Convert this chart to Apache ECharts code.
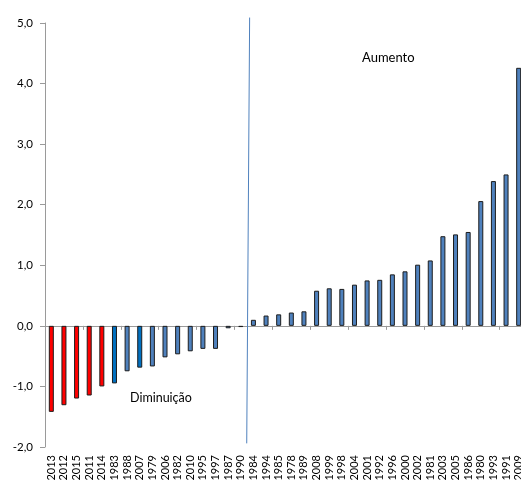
<!DOCTYPE html>
<html>
<head>
<meta charset="utf-8">
<script src="https://cdn.jsdelivr.net/npm/echarts@6/dist/echarts.min.js"></script>
<style>
  html, body { margin: 0; padding: 0; background: #fff; overflow: hidden; }
  /* o gráfico original é cortado à direita: a área é um pouco mais larga que a janela */
  #chart { width: 526px; height: 488px; }
</style>
</head>
<body>
<div id="chart"></div>
<script>
// anos ordenados pela variação
const anos = ['2013', '2012', '2015', '2011', '2014', '1983', '1988', '2007', '1979', '2006',
    '1982', '2010', '1995', '1997', '1987', '1990', '1984', '1994', '1985', '1978',
    '1989', '2008', '1999', '1998', '2004', '2001', '1992', '1996', '2000', '2002',
    '1981', '2003', '2005', '1986', '1980', '1993', '1991', '2009']
const valores = [-1.42, -1.31, -1.20, -1.15, -1.00, -0.95, -0.75, -0.69, -0.67, -0.52,
    -0.47, -0.42, -0.38, -0.38, -0.04, -0.02, 0.10, 0.17, 0.19, 0.22,
    0.24, 0.58, 0.62, 0.61, 0.68, 0.75, 0.76, 0.85, 0.90, 1.01,
    1.08, 1.48, 1.51, 1.55, 2.06, 2.39, 2.50, 4.26]
const anosVermelhos = ['2013', '2012', '2015', '2011', '2014']
const anosDestaque = ['1983', '2007']
const yTicks = [-2, -1, 0, 1, 2, 3, 4, 5]

const fonte = 'Lato, "Open Sans", sans-serif'

/* cores das barras */
const dadosBarras = valores.map((v, i) => {
    let cor = '#4F81BD'
    if (anosVermelhos.includes(anos[i])) cor = '#FF0000'
    else if (anosDestaque.includes(anos[i])) cor = '#0070C0'
    return {
        value: v,
        itemStyle: { color: cor, borderColor: '#1c1c1c', borderWidth: 1 }
    }
})

const chart = echarts.init(document.getElementById('chart'))
chart.setOption({
    animation: false,
    grid: { left: 45, right: 1, top: 23, bottom: 41, containLabel: false },
    xAxis: [
        {
            type: 'category',
            data: anos,
            axisLine: { onZero: true, lineStyle: { color: '#9a9a9a', width: 1 } },
            axisTick: { show: true, length: 4, lineStyle: { color: '#9a9a9a' } },
            axisLabel: { show: false }
        },
        {
            type: 'category',
            data: anos,
            position: 'bottom',
            axisLine: { show: false, onZero: false },
            axisTick: { show: false },
            axisLabel: {
                interval: 0,
                rotate: 90,
                margin: 8,
                fontSize: 11,
                fontFamily: fonte,
                color: '#000'
            }
        },
        {
            type: 'value',
            min: 0,
            max: anos.length,
            show: false
        }
    ],
    yAxis: {
        type: 'value',
        min: yTicks[0],
        max: yTicks[yTicks.length - 1],
        interval: 1,
        axisLine: { show: true, lineStyle: { color: '#9a9a9a' } },
        axisTick: { show: true, length: 5, lineStyle: { color: '#9a9a9a' } },
        splitLine: { show: false },
        axisLabel: {
            margin: 12,
            fontSize: 11.5,
            fontFamily: fonte,
            color: '#000',
            formatter: (v) => v.toFixed(1).replace('.', ',')
        }
    },
    series: [
        {
            type: 'bar',
            xAxisIndex: 0,
            barWidth: 5,
            data: dadosBarras
        },
        {
            // linha divisória entre diminuição e aumento
            type: 'line',
            xAxisIndex: 2,
            clip: false,
            symbol: 'none',
            silent: true,
            lineStyle: { color: '#4F81BD', width: 1 },
            data: [[16.2, 5.09], [15.97, -1.94]]
        }
    ],
    graphic: [
        {
            type: 'text',
            left: 362,
            top: 51,
            style: { text: 'Aumento', font: '13px ' + fonte, fill: '#000' }
        },
        {
            type: 'text',
            left: 130,
            top: 391,
            style: { text: 'Diminuição', font: '12.5px ' + fonte, fill: '#000' }
        }
    ]
})
</script>
</body>
</html>
